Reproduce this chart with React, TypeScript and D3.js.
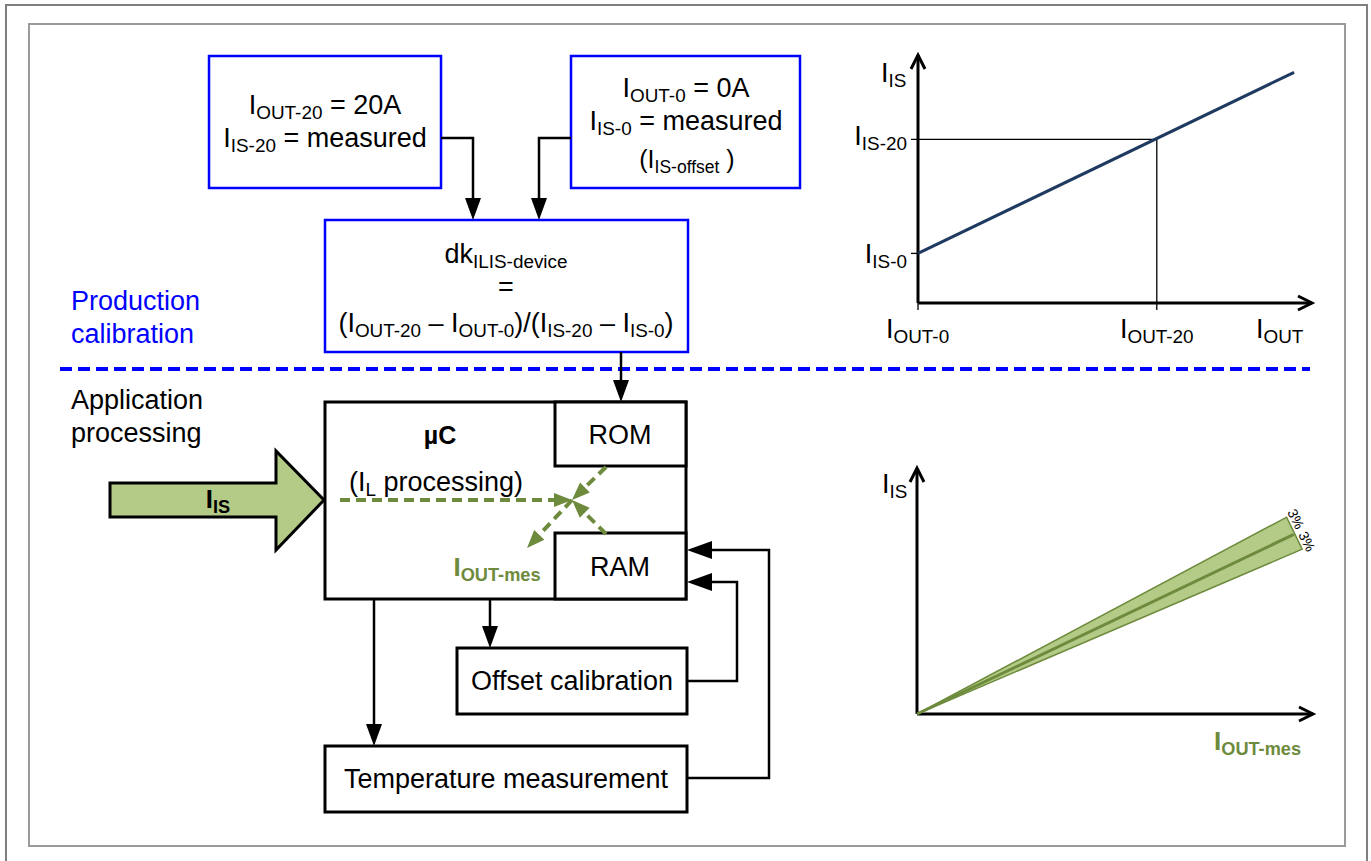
import * as d3 from "d3";

const FONT = "'Liberation Sans', Arial, sans-serif";
const BLUE = "#0000FF";
const GREEN = "#6E8B3D";
const LIGHT_GREEN = "#B3CB87";
const NAVY = "#1F3A60";

// production calibration chart (I_IS over I_OUT)
const calibLine = [
  { iout: 0, iis: 2.0 },
  { iout: 31.5, iis: 9.3 },
];
const ioutTicks = [0, 20];
const iisTicks = [2.0, 6.6];
const topXDomain: [number, number] = [0, 33];
const topYDomain: [number, number] = [0, 10];

// application chart (tolerance band around measured I_OUT)
const bandCenter = [
  { x: 0, y: 0 },
  { x: 31.4, y: 7.3 },
];
const bandUpper = [
  { x: 0, y: 0 },
  { x: 30.8, y: 8.0 },
];
const bandLower = [
  { x: 0, y: 0 },
  { x: 32.1, y: 6.7 },
];
const toleranceLabels = ["3%", "3%"];
const botXDomain: [number, number] = [0, 33];
const botYDomain: [number, number] = [0, 10];

type Part = [string, boolean?];

function Rich({
  x,
  y,
  parts,
  size = 27,
  anchor = "middle",
  fill = "#000",
  weight = "normal",
  shift = 5,
}: {
  x: number;
  y: number;
  parts: Part[];
  size?: number;
  anchor?: string;
  fill?: string;
  weight?: string;
  shift?: number;
}) {
  let sub = false;
  return (
    <text x={x} y={y} fontSize={size} textAnchor={anchor} fill={fill} fontWeight={weight} fontFamily={FONT}>
      {parts.map(([t, s], i) => {
        const dy = s && !sub ? shift : !s && sub ? -shift : 0;
        sub = !!s;
        return (
          <tspan key={i} dy={dy} fontSize={s ? size * 0.7 : size}>
            {t}
          </tspan>
        );
      })}
    </text>
  );
}

// polyline ending in a filled arrow head
function Arrow({
  pts,
  color = "#000",
  width = 2.5,
  len = 22,
  half = 8,
  dash,
}: {
  pts: [number, number][];
  color?: string;
  width?: number;
  len?: number;
  half?: number;
  dash?: string;
}) {
  const [x2, y2] = pts[pts.length - 1];
  const [x1, y1] = pts[pts.length - 2];
  const d = Math.hypot(x2 - x1, y2 - y1);
  const ux = (x2 - x1) / d;
  const uy = (y2 - y1) / d;
  const bx = x2 - ux * len;
  const by = y2 - uy * len;
  const body = [...pts.slice(0, -1), [bx, by]] as [number, number][];
  const head = [
    [x2, y2],
    [bx - uy * half, by + ux * half],
    [bx + uy * half, by - ux * half],
  ];
  return (
    <g>
      <path d={d3.line()(body) ?? ""} fill="none" stroke={color} strokeWidth={width} strokeDasharray={dash} />
      <polygon points={head.map((p) => p.join(",")).join(" ")} fill={color} />
    </g>
  );
}

function Chevron({ x, y, dir }: { x: number; y: number; dir: "up" | "right" }) {
  const p =
    dir === "up"
      ? `M${x - 7},${y + 14}L${x},${y}L${x + 7},${y + 14}`
      : `M${x - 14},${y - 7}L${x},${y}L${x - 14},${y + 7}`;
  return <path d={p} fill="none" stroke="#000" strokeWidth={3} />;
}

export default function App() {
  // top chart scales
  const xT = d3.scaleLinear().domain(topXDomain).range([918, 1312]);
  const yT = d3.scaleLinear().domain(topYDomain).range([303, 55]);
  const lineT = d3
    .line<{ iout: number; iis: number }>()
    .x((d) => xT(d.iout))
    .y((d) => yT(d.iis));

  // bottom chart scales
  const xB = d3.scaleLinear().domain(botXDomain).range([917, 1313]);
  const yB = d3.scaleLinear().domain(botYDomain).range([714, 468]);
  const lineB = d3
    .line<{ x: number; y: number }>()
    .x((d) => xB(d.x))
    .y((d) => yB(d.y));

  const up = bandUpper[1];
  const lo = bandLower[1];
  const ce = bandCenter[1];
  const bandPath = `M${xB(0)},${yB(0)}L${xB(up.x)},${yB(up.y)}L${xB(lo.x)},${yB(lo.y)}Z`;
  const dirX = xB(ce.x) - xB(0);
  const dirY = yB(ce.y) - yB(0);
  const dn = Math.hypot(dirX, dirY);
  const edgeAngle =
    (Math.atan2(yB(lo.y) - yB(up.y), xB(lo.x) - xB(up.x)) * 180) / Math.PI;
  // labels sit just beyond the band end, one per half of the band
  const labelPos = [up, lo].map((e) => {
    const px = xB(e.x) + 0.3 * (xB(ce.x) - xB(e.x));
    const py = yB(e.y) + 0.3 * (yB(ce.y) - yB(e.y));
    return [px + (dirX / dn) * 8, py + (dirY / dn) * 8];
  });

  const iis0 = iisTicks[0];
  const iis20 = iisTicks[1];
  const iout20 = ioutTicks[1];

  return (
    <svg
      width={1371}
      height={861}
      style={{ position: "absolute", left: 0, top: 0, background: "#fff" }}
    >
      {/* frames */}
      <rect x={6} y={5} width={1361} height={880} fill="none" stroke="#7f7f7f" strokeWidth={2} />
      <rect x={29} y={24} width={1316} height={822} fill="none" stroke="#9a9a9a" strokeWidth={2} />

      {/* production calibration boxes */}
      <rect x={209} y={56} width={232} height={132} fill="#fff" stroke={BLUE} strokeWidth={2.5} />
      <Rich x={325} y={114} parts={[["I"], ["OUT-20", true], [" = 20A"]]} />
      <Rich x={325} y={147} parts={[["I"], ["IS-20", true], [" = measured"]]} />

      <rect x={571} y={56} width={229} height={132} fill="#fff" stroke={BLUE} strokeWidth={2.5} />
      <Rich x={686} y={97} parts={[["I"], ["OUT-0", true], [" = 0A"]]} />
      <Rich x={686} y={130} parts={[["I"], ["IS-0", true], [" = measured"]]} />
      <Rich x={687} y={168} size={25} parts={[["(I"], ["IS-offset", true], [" )"]]} />

      <rect x={325} y={220} width={363} height={132} fill="#fff" stroke={BLUE} strokeWidth={2.5} />
      <Rich x={506} y={263} parts={[["dk"], ["ILIS-device", true]]} />
      <Rich x={506} y={296} parts={[["="]]} />
      <Rich
        x={506}
        y={332}
        parts={[
          ["(I"],
          ["OUT-20", true],
          [" – I"],
          ["OUT-0", true],
          [")/(I"],
          ["IS-20", true],
          [" – I"],
          ["IS-0", true],
          [")"],
        ]}
      />

      <Arrow pts={[[441, 138], [473, 138], [473, 220]]} />
      <Arrow pts={[[571, 138], [539, 138], [539, 220]]} />

      {/* separator */}
      <line x1={60} x2={1310} y1={369} y2={369} stroke={BLUE} strokeWidth={4} strokeDasharray="12 6" />
      <text x={71} y={310} fontSize={27} fill={BLUE} fontFamily={FONT}>Production</text>
      <text x={71} y={343} fontSize={27} fill={BLUE} fontFamily={FONT}>calibration</text>
      <text x={71} y={409} fontSize={27} fill="#000" fontFamily={FONT}>Application</text>
      <text x={71} y={442} fontSize={27} fill="#000" fontFamily={FONT}>processing</text>

      <Arrow pts={[[621, 352], [621, 402]]} />

      {/* application processing block */}
      <rect x={325} y={402} width={361} height={197} fill="#fff" stroke="#000" strokeWidth={3} />
      <rect x={555} y={402} width={131} height={64} fill="#fff" stroke="#000" strokeWidth={3} />
      <rect x={555} y={533} width={131} height={66} fill="#fff" stroke="#000" strokeWidth={3} />
      <text x={620} y={444} fontSize={27} textAnchor="middle" fontFamily={FONT}>ROM</text>
      <text x={620} y={576} fontSize={27} textAnchor="middle" fontFamily={FONT}>RAM</text>
      <text x={440} y={444} fontSize={25} textAnchor="middle" fontWeight="bold" fontFamily={FONT}>µC</text>
      <Rich x={349} y={491} anchor="start" parts={[["(I"], ["L", true], [" processing)"]]} />

      {/* I_IS input arrow */}
      <path
        d="M110,483L276,483L276,451L324,500L276,550L276,517L110,517Z"
        fill={LIGHT_GREEN}
        stroke="#000"
        strokeWidth={3}
        strokeLinejoin="miter"
      />
      <Rich x={218} y={508} size={26} weight="bold" parts={[["I"], ["IS", true]]} />

      {/* internal dashed flow */}
      <Arrow pts={[[340, 500], [572, 500]]} color={GREEN} width={4} len={18} half={7} dash="10 6" />
      <Arrow pts={[[606, 467], [572, 500]]} color={GREEN} width={4} len={18} half={7} dash="10 6" />
      <Arrow pts={[[606, 534], [572, 500]]} color={GREEN} width={4} len={18} half={7} dash="10 6" />
      <Arrow pts={[[572, 500], [527, 548]]} color={GREEN} width={4} len={18} half={7} dash="10 6" />
      <Rich x={497} y={576} size={26} weight="bold" fill={GREEN} parts={[["I"], ["OUT-mes", true]]} />

      {/* peripheral blocks */}
      <rect x={457} y={648} width={230} height={66} fill="#fff" stroke="#000" strokeWidth={3} />
      <text x={572} y={690} fontSize={27} textAnchor="middle" fontFamily={FONT}>Offset calibration</text>
      <rect x={325} y={746} width={362} height={66} fill="#fff" stroke="#000" strokeWidth={3} />
      <text x={506} y={788} fontSize={27} textAnchor="middle" fontFamily={FONT}>Temperature measurement</text>

      <Arrow pts={[[374, 599], [374, 746]]} />
      <Arrow pts={[[490, 599], [490, 648]]} />
      <Arrow pts={[[687, 681], [737, 681], [737, 582], [687, 582]]} len={25} half={9} />
      <Arrow pts={[[687, 778], [769, 778], [769, 550], [687, 550]]} len={25} half={9} />

      {/* top chart */}
      <line x1={911} x2={xT(iout20)} y1={yT(iis20)} y2={yT(iis20)} stroke="#000" strokeWidth={1.3} />
      <line x1={xT(iout20)} x2={xT(iout20)} y1={yT(iis20)} y2={310} stroke="#000" strokeWidth={1.3} />
      <line x1={911} x2={918} y1={yT(iis0)} y2={yT(iis0)} stroke="#000" strokeWidth={1.3} />
      <line x1={xT(0)} x2={xT(0)} y1={303} y2={310} stroke="#000" strokeWidth={1.3} />
      <line x1={xT(0)} x2={xT(0)} y1={yT(0)} y2={yT(topYDomain[1])} stroke="#000" strokeWidth={3} />
      <line x1={xT(0)} x2={xT(topXDomain[1])} y1={yT(0)} y2={yT(0)} stroke="#000" strokeWidth={3} />
      <Chevron x={xT(0)} y={yT(topYDomain[1])} dir="up" />
      <Chevron x={xT(topXDomain[1])} y={yT(0)} dir="right" />
      <path d={lineT(calibLine) ?? ""} fill="none" stroke={NAVY} strokeWidth={3} />
      <Rich x={881} y={82} anchor="start" parts={[["I"], ["IS", true]]} />
      <Rich x={907} y={145} anchor="end" parts={[["I"], ["IS-20", true]]} />
      <Rich x={907} y={263} anchor="end" parts={[["I"], ["IS-0", true]]} />
      <Rich x={886} y={338} anchor="start" parts={[["I"], ["OUT-0", true]]} />
      <Rich x={xT(iout20)} y={338} parts={[["I"], ["OUT-20", true]]} />
      <Rich x={1256} y={338} anchor="start" parts={[["I"], ["OUT", true]]} />

      {/* bottom chart */}
      <line x1={xB(0)} x2={xB(0)} y1={yB(0)} y2={yB(botYDomain[1])} stroke="#000" strokeWidth={3} />
      <line x1={xB(0)} x2={xB(botXDomain[1])} y1={yB(0)} y2={yB(0)} stroke="#000" strokeWidth={3} />
      <Chevron x={xB(0)} y={yB(botYDomain[1])} dir="up" />
      <Chevron x={xB(botXDomain[1])} y={yB(0)} dir="right" />
      <path d={bandPath} fill={LIGHT_GREEN} stroke={GREEN} strokeWidth={1.5} />
      <path d={lineB(bandCenter) ?? ""} fill="none" stroke={GREEN} strokeWidth={3} />
      {toleranceLabels.map((t, i) => (
        <text
          key={i}
          x={labelPos[i][0]}
          y={labelPos[i][1]}
          fontSize={14}
          textAnchor="middle"
          dominantBaseline="central"
          fontFamily={FONT}
          transform={`rotate(${edgeAngle},${labelPos[i][0]},${labelPos[i][1]})`}
        >
          {t}
        </text>
      ))}
      <Rich x={882} y={493} anchor="start" parts={[["I"], ["IS", true]]} />
      <Rich x={1214} y={750} anchor="start" size={26} weight="bold" fill={GREEN} parts={[["I"], ["OUT-mes", true]]} />
    </svg>
  );
}
